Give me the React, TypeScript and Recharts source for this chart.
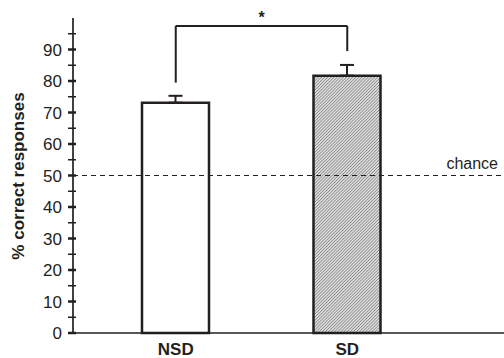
import React from 'react';
import { BarChart, Bar, XAxis, YAxis, Cell, ErrorBar, ReferenceLine } from 'recharts';

const groups = ['NSD', 'SD'];
const meanCorrect = [73.1, 81.7];
const semCorrect = [2.2, 3.4];
const yTicks = [0, 5, 10, 15, 20, 25, 30, 35, 40, 45, 50, 55, 60, 65, 70, 75, 80, 85, 90, 95];
const chanceLevel = 50;
// significance bracket: top height, left leg end, right leg end
const bracketTop = 97.5;
const bracketLegs = [79.5, 89.5];

const data = groups.map((g, i) => ({ group: g, mean: meanCorrect[i], err: [0, semCorrect[i]] }));

const ink = '#231f20';
const font = '"Liberation Sans", Arial, sans-serif';

const YTick = (props: any) => {
    const { x, y, payload } = props;
    const major = payload.value % 10 === 0;
    return (
        <g>
            <line x1={x - 5} x2={x + 3} y1={y} y2={y} stroke={ink} strokeWidth={major ? 2.5 : 1.5} />
            {major && (
                <text x={x - 11} y={y + 6} textAnchor="end" fontSize={17} fontFamily={font} fill={ink}>
                    {payload.value}
                </text>
            )}
        </g>
    );
};

const XTick = (props: any) => {
    const { x, y, payload } = props;
    return (
        <text x={x} y={y + 22} textAnchor="middle" fontSize={17} fontWeight="bold" fontFamily={font} fill={ink}>
            {payload.value}
        </text>
    );
};

const App = () => {
    return (
        <div style={{ position: 'absolute', left: 0, top: 0, width: 504, height: 358, background: '#fff' }}>
            <BarChart width={504} height={358} data={data} margin={{ top: 18, right: 0, bottom: 0, left: 0 }}>
                <defs>
                    <pattern id="hatch" width="2.2" height="2.2" patternUnits="userSpaceOnUse" patternTransform="rotate(45)">
                        <rect width="2.2" height="2.2" fill="#dcdcdc" />
                        <line x1="0" y1="0" x2="0" y2="2.2" stroke="#505050" strokeWidth={0.9} />
                    </pattern>
                </defs>
                <XAxis
                    dataKey="group"
                    padding={{ left: 17, right: 71 }}
                    axisLine={{ stroke: ink, strokeWidth: 1.5 }}
                    tickLine={false}
                    tickSize={0}
                    tickMargin={0}
                    tick={<XTick />}
                    height={25}
                />
                <YAxis
                    domain={[0, 100]}
                    ticks={yTicks}
                    interval={0}
                    width={73}
                    axisLine={{ stroke: ink, strokeWidth: 1.7 }}
                    tickLine={false}
                    tickSize={0}
                    tickMargin={0}
                    tick={<YTick />}
                    label={(p: any) => (
                        <text
                            x={18}
                            y={176}
                            transform="rotate(-90 18 176)"
                            textAnchor="middle"
                            dominantBaseline="central"
                            fontSize={17}
                            fontWeight="bold"
                            fontFamily={font}
                            fill={ink}
                        >
                            % correct responses
                        </text>
                    )}
                />
                <ReferenceLine
                    y={chanceLevel}
                    stroke={ink}
                    strokeWidth={1.2}
                    strokeDasharray="5 4"
                    label={(p: any) => (
                        <text
                            x={p.viewBox.x + p.viewBox.width - 6}
                            y={p.viewBox.y - 7}
                            textAnchor="end"
                            fontSize={16}
                            fontFamily={font}
                            fill={ink}
                        >
                            chance
                        </text>
                    )}
                />
                <Bar dataKey="mean" barSize={67} stroke={ink} strokeWidth={2.5} isAnimationActive={false}>
                    {data.map((d, i) => (
                        <Cell key={d.group} fill={i === 0 ? '#ffffff' : 'url(#hatch)'} />
                    ))}
                    <ErrorBar dataKey="err" width={7} stroke={ink} strokeWidth={2} direction="y" />
                </Bar>
                <ReferenceLine
                    segment={[{ x: groups[0], y: bracketTop }, { x: groups[1], y: bracketTop }]}
                    stroke={ink}
                    strokeWidth={2}
                    label={(p: any) => (
                        <text
                            x={p.viewBox.x + p.viewBox.width / 2}
                            y={p.viewBox.y - 3}
                            textAnchor="middle"
                            fontSize={16}
                            fontWeight="bold"
                            fontFamily={font}
                            fill={ink}
                        >
                            *
                        </text>
                    )}
                />
                {groups.map((g, i) => (
                    <ReferenceLine
                        key={g}
                        segment={[{ x: g, y: bracketLegs[i] }, { x: g, y: bracketTop }]}
                        stroke={ink}
                        strokeWidth={2}
                    />
                ))}
            </BarChart>
        </div>
    );
};

export default App;
